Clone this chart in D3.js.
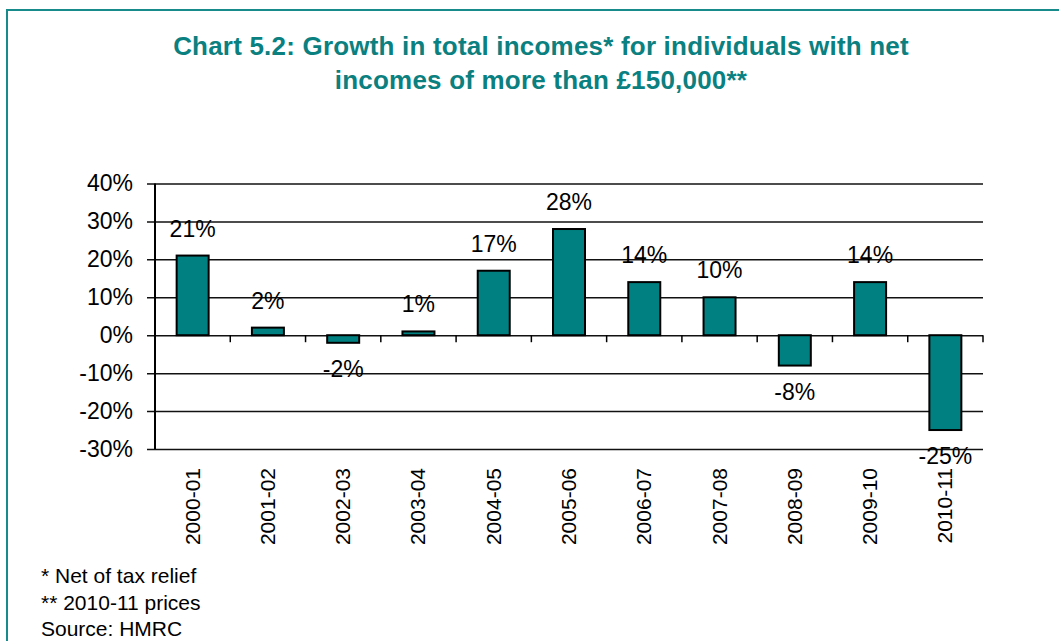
<!DOCTYPE html>
<html>
<head>
<meta charset="utf-8">
<script src="https://cdn.jsdelivr.net/npm/d3@7"></script>
<style>
  body { margin: 0; background: #fff; }
  svg text { font-family: "Liberation Sans", Arial, sans-serif; }
</style>
</head>
<body>
<svg id="chart"></svg>
<script>
const width = 1059;
const height = 641;

// chart data
const years = ["2000-01", "2001-02", "2002-03", "2003-04", "2004-05", "2005-06",
  "2006-07", "2007-08", "2008-09", "2009-10", "2010-11"];
const growth = [21, 2, -2, 1, 17, 28, 14, 10, -8, 14, -25];
const yTicks = [40, 30, 20, 10, 0, -10, -20, -30];
const titleLines = ["Chart 5.2: Growth in total incomes* for individuals with net",
  "incomes of more than £150,000**"];
const notes = ["* Net of tax relief", "** 2010-11 prices", "Source: HMRC"];

const teal = "#008080";
const titleColor = "#0b8080";
const margin = { top: 183.5, right: 76, bottom: 192, left: 155 };

const svg = d3.select("#chart")
  .attr("width", width)
  .attr("height", height);

// outer frame (runs off the right and bottom edge)
svg.append("rect")
  .attr("x", 7)
  .attr("y", 10)
  .attr("width", width + 20)
  .attr("height", height + 20)
  .attr("fill", "none")
  .attr("stroke", "#178b8b")
  .attr("stroke-width", 2);

// title
svg.append("g")
  .selectAll("text")
  .data(titleLines)
  .enter()
  .append("text")
  .attr("x", 541)
  .attr("y", (d, i) => 55 + i * 34)
  .attr("text-anchor", "middle")
  .style("font-size", "26px")
  .style("font-weight", "bold")
  .style("letter-spacing", "0.2px")
  .style("fill", titleColor)
  .text((d) => d);

const xScale = d3.scaleBand()
  .domain(years)
  .range([margin.left, width - margin.right])
  .paddingInner(0.575)
  .paddingOuter(0.2875);

const yScale = d3.scaleLinear()
  .domain([-30, 40])
  .range([height - margin.bottom, margin.top]);

// gridlines + left ticks
const yAxis = d3.axisLeft(yScale)
  .tickValues(yTicks)
  .tickSize(-(width - margin.right - margin.left))
  .tickFormat((d) => d + "%");

const gy = svg.append("g")
  .attr("class", "y-axis")
  .attr("transform", `translate(${margin.left},0)`)
  .call(yAxis);
gy.select(".domain").remove();
gy.selectAll(".tick line")
  .attr("x1", -8)
  .attr("stroke", "#111")
  .attr("stroke-width", 1.5);
gy.selectAll(".tick text")
  .style("font-size", "23px")
  .style("font-family", "Liberation Sans, Arial, sans-serif")
  .attr("fill", "#000")
  .attr("x", -22);

// y axis line
svg.append("line")
  .attr("x1", margin.left)
  .attr("x2", margin.left)
  .attr("y1", yScale(40))
  .attr("y2", yScale(-30))
  .attr("stroke", "#000")
  .attr("stroke-width", 2);

// bars
svg.append("g")
  .selectAll("rect")
  .data(growth)
  .enter()
  .append("rect")
  .attr("x", (d, i) => xScale(years[i]))
  .attr("y", (d) => yScale(Math.max(d, 0)))
  .attr("width", xScale.bandwidth())
  .attr("height", (d) => Math.abs(yScale(d) - yScale(0)))
  .attr("fill", teal)
  .attr("stroke", "#000")
  .attr("stroke-width", 2);

// category boundary ticks on the zero line
const step = xScale.step();
svg.append("g")
  .selectAll("line")
  .data(d3.range(1, years.length + 1))
  .enter()
  .append("line")
  .attr("x1", (d) => margin.left + d * step)
  .attr("x2", (d) => margin.left + d * step)
  .attr("y1", yScale(0))
  .attr("y2", yScale(0) + 7)
  .attr("stroke", "#000")
  .attr("stroke-width", 1.5);

// value labels
svg.append("g")
  .selectAll("text")
  .data(growth)
  .enter()
  .append("text")
  .attr("x", (d, i) => xScale(years[i]) + xScale.bandwidth() / 2)
  .attr("y", (d) => d >= 0 ? yScale(d) - 19 : yScale(d) + 34)
  .attr("text-anchor", "middle")
  .style("font-size", "23px")
  .style("fill", "#000")
  .text((d) => d + "%");

// category labels, rotated
svg.append("g")
  .selectAll("text")
  .data(years)
  .enter()
  .append("text")
  .attr("transform", (d) => `translate(${xScale(d) + xScale.bandwidth() / 2 + 7},468) rotate(-90)`)
  .attr("text-anchor", "end")
  .style("font-size", "21px")
  .style("fill", "#000")
  .text((d) => d);

// footnotes
svg.append("g")
  .selectAll("text")
  .data(notes)
  .enter()
  .append("text")
  .attr("x", 41)
  .attr("y", (d, i) => 583 + i * 26.5)
  .style("font-size", "21px")
  .style("fill", "#000")
  .text((d) => d);
</script>
</body>
</html>
